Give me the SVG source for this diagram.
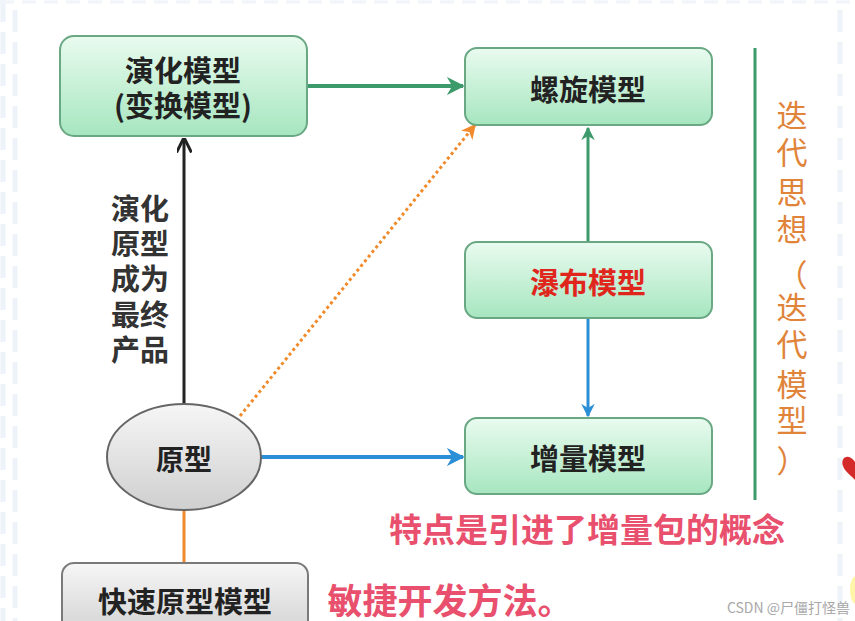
<svg xmlns="http://www.w3.org/2000/svg" width="855" height="621" viewBox="0 0 855 621">
<style>
.t{font-family:"Noto Sans CJK SC","Noto Sans",sans-serif;font-weight:700;fill:#222;text-anchor:middle;dominant-baseline:central}
.box{fill:url(#gg);stroke:#6aa884;stroke-width:2}
.gbox{fill:url(#gr);stroke:#7a7a7a;stroke-width:2}
.side{font-family:"Noto Sans CJK SC",sans-serif;font-weight:400;fill:#e0843a;font-size:31px;text-anchor:middle;dominant-baseline:central}
.deco{stroke:#eef3fa;stroke-width:5;stroke-dasharray:22 10;fill:none}
</style>
<defs>
<linearGradient id="gg" x1="0" y1="0" x2="0" y2="1"><stop offset="0" stop-color="#e9fbef"/><stop offset="1" stop-color="#a6e6bf"/></linearGradient>
<linearGradient id="gr" x1="0" y1="0" x2="0" y2="1"><stop offset="0" stop-color="#f6f6f6"/><stop offset="1" stop-color="#cfcfcf"/></linearGradient>
<marker id="ag" viewBox="0 0 10 10" refX="9" refY="5" markerWidth="4.5" markerHeight="4.5" orient="auto"><path d="M0,0 L10,5 L0,10 L3,5 Z" fill="#3d9a6a"/></marker>
<marker id="ab" viewBox="0 0 10 10" refX="9" refY="5" markerWidth="4.5" markerHeight="4.5" orient="auto"><path d="M0,0 L10,5 L0,10 L3,5 Z" fill="#2a8fd6"/></marker>
<marker id="ak" viewBox="0 0 10 10" refX="9" refY="5" markerWidth="5" markerHeight="5" orient="auto"><path d="M0,0 L10,5 L0,10" fill="none" stroke="#222" stroke-width="2"/></marker>
<marker id="ao" viewBox="0 0 10 10" refX="9" refY="5" markerWidth="5" markerHeight="5" orient="auto"><path d="M0,0 L10,5 L0,10 L3,5 Z" fill="#f08a2a"/></marker>
</defs>
<rect width="855" height="621" fill="#ffffff"/>
<g id="decor">
<line class="deco" x1="3" y1="0" x2="3" y2="621"/>
<line class="deco" x1="15" y1="10" x2="15" y2="621"/>
<line class="deco" x1="840" y1="10" x2="840" y2="621"/>
<line x1="0" y1="2" x2="855" y2="2" stroke="#f1f4f9" stroke-width="3" stroke-dasharray="14 8"/>
<path d="M855,462 C848,452 840,458 843,466 C845,472 852,476 855,480 Z" fill="#d42a2a"/>
<ellipse cx="856" cy="590" rx="6" ry="14" fill="#fff6a8"/>
</g>
<g id="connectors">
<line x1="184" y1="404" x2="184" y2="139" stroke="#222" stroke-width="3" marker-end="url(#ak)"/>
<line x1="307" y1="86" x2="463" y2="86" stroke="#3d9a6a" stroke-width="4" marker-end="url(#ag)"/>
<line x1="240" y1="416" x2="475" y2="125" stroke="#f08a2a" stroke-width="3" stroke-dasharray="3 3" marker-end="url(#ao)"/>
<line x1="588" y1="242" x2="588" y2="128" stroke="#3d9a6a" stroke-width="3" marker-end="url(#ag)"/>
<line x1="588" y1="318" x2="588" y2="416" stroke="#2a8fd6" stroke-width="3" marker-end="url(#ab)"/>
<line x1="261" y1="457" x2="463" y2="457" stroke="#2a8fd6" stroke-width="4" marker-end="url(#ab)"/>
<line x1="184" y1="510" x2="184" y2="563" stroke="#ee8a2a" stroke-width="3"/>
<line x1="755" y1="48" x2="755" y2="500" stroke="#3d9a6a" stroke-width="3"/>
</g>
<g id="n-evolve">
<rect class="box" x="60" y="36" width="247" height="100" rx="14"/>
<text class="t" x="183" y="69" font-size="29">演化模型</text>
<text class="t" x="183" y="104" font-size="29">(变换模型)</text>
</g>
<g id="n-spiral">
<rect class="box" x="465" y="48" width="247" height="77" rx="12"/>
<text class="t" x="588" y="88" font-size="29">螺旋模型</text>
</g>
<g id="n-waterfall">
<rect class="box" x="465" y="242" width="247" height="76" rx="12"/>
<text class="t" x="588" y="281" font-size="29" style="fill:#e0261c">瀑布模型</text>
</g>
<g id="n-incr">
<rect class="box" x="465" y="418" width="247" height="76" rx="12"/>
<text class="t" x="588" y="457" font-size="29">增量模型</text>
</g>
<g id="n-proto">
<ellipse cx="184" cy="457" rx="77" ry="53" fill="url(#gr)" stroke="#666" stroke-width="2"/>
<text class="t" x="184" y="458" font-size="28">原型</text>
</g>
<g id="n-rapid">
<rect class="gbox" x="62" y="563" width="246" height="80" rx="12"/>
<text class="t" x="185" y="600" font-size="29">快速原型模型</text>
</g>
<g id="label-evolve">
<text class="t" font-size="29" style="fill:#333"><tspan x="140" y="207">演化</tspan><tspan x="140" y="242">原型</tspan><tspan x="140" y="277">成为</tspan><tspan x="140" y="313">最终</tspan><tspan x="140" y="348">产品</tspan></text>
</g>
<g id="label-side">
<text class="side"><tspan x="792" y="113">迭</tspan><tspan x="792" y="150">代</tspan><tspan x="792" y="190">思</tspan><tspan x="792" y="227">想</tspan><tspan x="792" y="272">（</tspan><tspan x="792" y="305">迭</tspan><tspan x="792" y="342">代</tspan><tspan x="792" y="382">模</tspan><tspan x="792" y="418">型</tspan><tspan x="792" y="458">）</tspan></text>
</g>
<text class="t" x="587" y="528" font-size="33" style="fill:#e8506e">特点是引进了增量包的概念</text>
<text class="t" x="450" y="598" font-size="35" style="fill:#e8506e">敏捷开发方法。</text>
<text x="850" y="607" font-family="Noto Sans CJK SC,sans-serif" font-size="14" fill="#a8a8a8" text-anchor="end" dominant-baseline="central">CSDN @尸僵打怪兽</text>
</svg>
